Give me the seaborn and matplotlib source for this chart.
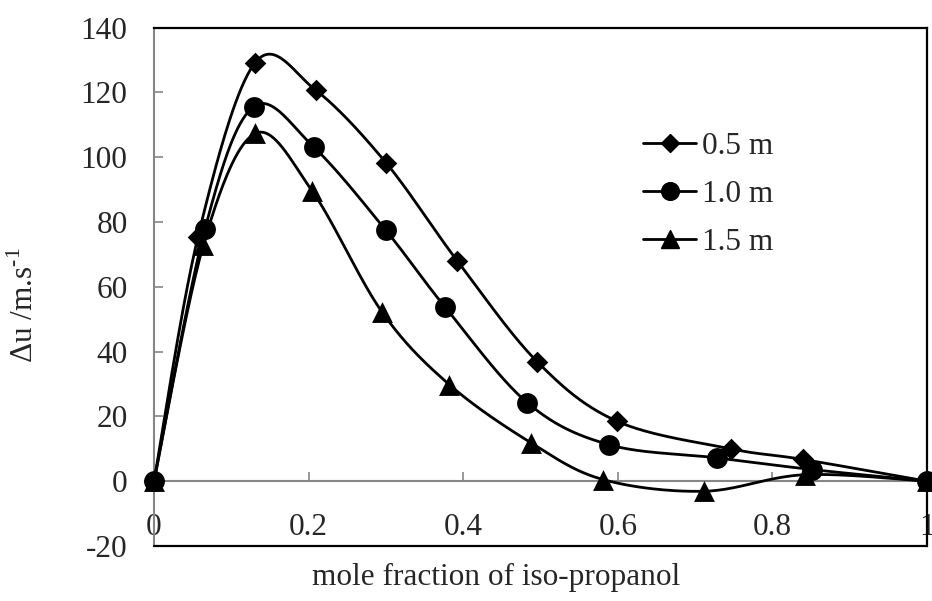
import numpy as np
import matplotlib
matplotlib.use("Agg")
import matplotlib.pyplot as plt
import seaborn as sns
from matplotlib.lines import Line2D

# ---- data ----
series_labels = ["0.5 m", "1.0 m", "1.5 m"]

x_05 = [0, 0.057, 0.131, 0.209, 0.300, 0.392, 0.496, 0.599, 0.746, 0.840, 1.0]
y_05 = [0, 75.5, 129.2, 120.7, 98.3, 68.1, 36.8, 18.5, 10.0, 6.7, 0]

x_10 = [0, 0.066, 0.129, 0.207, 0.300, 0.377, 0.483, 0.588, 0.728, 0.851, 1.0]
y_10 = [0, 77.9, 115.6, 103.0, 77.4, 53.6, 24.2, 11.3, 7.2, 3.6, 0]

x_15 = [0, 0.064, 0.131, 0.205, 0.295, 0.382, 0.488, 0.581, 0.712, 0.842, 1.0]
y_15 = [0, 73.0, 107.3, 89.4, 52.2, 29.8, 11.8, 0.5, -3.1, 2.0, 0]

x_ticks = [0, 0.2, 0.4, 0.6, 0.8, 1.0]
x_tick_labels = ["0", "0.2", "0.4", "0.6", "0.8", "1"]
y_ticks = [-20, 0, 20, 40, 60, 80, 100, 120, 140]
y_tick_labels = ["-20", "0", "20", "40", "60", "80", "100", "120", "140"]

# ---- style ----
sns.set_style("white")
plt.rcParams["font.family"] = ["Liberation Serif", "DejaVu Serif"]
plt.rcParams["mathtext.fontset"] = "custom"
plt.rcParams["mathtext.rm"] = "Liberation Serif"
plt.rcParams["axes.unicode_minus"] = False
FS = 22.5
GRAY = "#868686"


def smooth(xs, ys, sx=773.0, sy=3.244, n=40):
    """Excel-like smoothed line (Catmull-Rom Bezier) in screen-scaled space."""
    P = np.column_stack([np.asarray(xs) * sx, np.asarray(ys) * sy])
    pad = np.vstack([P[0], P, P[-1]])
    out = []
    t = np.linspace(0, 1, n)[:, None]
    for i in range(len(P) - 1):
        p0, p1, p2, p3 = pad[i], pad[i + 1], pad[i + 2], pad[i + 3]
        c1 = p1 + (p2 - p0) / 6.0
        c2 = p2 - (p3 - p1) / 6.0
        seg = (1 - t) ** 3 * p1 + 3 * (1 - t) ** 2 * t * c1 + 3 * (1 - t) * t ** 2 * c2 + t ** 3 * p2
        out.append(seg if i == 0 else seg[1:])
    out = np.vstack(out)
    return out[:, 0] / sx, out[:, 1] / sy


fig = plt.figure(figsize=(9.32, 6.01), dpi=100)
ax = fig.add_axes([0.16524, 0.09151, 0.82940, 0.86273])

series = [(x_05, y_05, "D", 11), (x_10, y_10, "o", 15), (x_15, y_15, "^", 15)]
for xs, ys, mk, ms in series:
    sx_, sy_ = smooth(xs, ys)
    sns.lineplot(x=sx_, y=sy_, ax=ax, color="black", lw=2.0, sort=False,
                 estimator=None, clip_on=False, zorder=3)
for xs, ys, mk, ms in series:
    sns.scatterplot(x=xs, y=ys, ax=ax, marker=mk, s=ms ** 2, color="black",
                    edgecolor="black", linewidth=0, clip_on=False, zorder=4)

ax.set_xlim(0, 1)
ax.set_ylim(-20, 140)
ax.set_xticks(x_ticks)
ax.set_xticklabels(x_tick_labels)
ax.set_yticks(y_ticks)
ax.set_yticklabels(y_tick_labels)

# spines
ax.spines["bottom"].set_position(("data", 0))
ax.spines["bottom"].set_color(GRAY)
ax.spines["bottom"].set_linewidth(1.5)
ax.spines["left"].set_color(GRAY)
ax.spines["left"].set_linewidth(1.5)
for s in ["top", "right"]:
    ax.spines[s].set_color("black")
    ax.spines[s].set_linewidth(1.6)
ax.axhline(-20, color="black", lw=1.6, clip_on=False, zorder=5)

ax.tick_params(axis="both", direction="in", length=6.5, width=1.2, color=GRAY,
               labelsize=FS, bottom=True, left=True)
ax.tick_params(axis="x", pad=23)
ax.tick_params(axis="y", pad=19)

fig.text(496 / 932, 1 - 577 / 601, "mole fraction of iso-propanol",
         ha="center", va="center", fontsize=FS)
fig.text(25 / 932, 1 - 305 / 601, "Δu /m.s$^{\\text{-1}}$", rotation=90,
         ha="center", va="center", fontsize=FS)

handles = [Line2D([], [], color="black", lw=2.0, marker=mk, markersize=ms * 0.85)
           for _, _, mk, ms in series]
ax.legend(handles, series_labels, loc="upper left", bbox_to_anchor=(0.6326, 0.798),
          frameon=False, borderpad=0, borderaxespad=0, handlelength=1.7,
          handletextpad=0.2, labelspacing=0.6, fontsize=FS)

fig.savefig("out.png", dpi=100)
